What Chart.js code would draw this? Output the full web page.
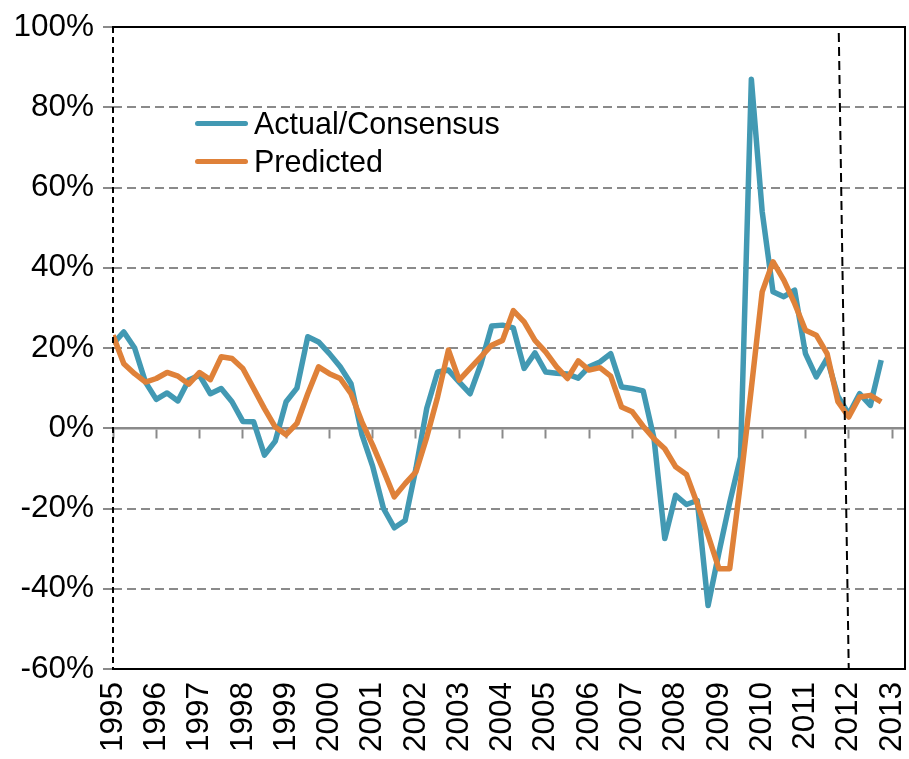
<!DOCTYPE html>
<html>
<head>
<meta charset="utf-8">
<script src="https://cdn.jsdelivr.net/npm/chart.js@4.4.1/dist/chart.umd.min.js"></script>
<style>
  html, body { margin: 0; padding: 0; background: #fff; }
  #wrap { position: relative; width: 909px; height: 759px; }
  #legend { position: absolute; left: 195px; top: 105px; font-family: 'Liberation Sans', Arial, sans-serif; font-size: 30.5px; color: #000; }
  .item { display: flex; align-items: center; height: 37.5px; }
  .swatch { width: 53px; height: 5px; border-radius: 3px; margin-right: 6px; }
</style>
</head>
<body>
<div id="wrap">
  <canvas id="myChart" width="909" height="759"></canvas>
  <div id="legend"></div>
</div>
<script>
// quarterly series, 1995 Q1 onward
const startYear = 1995;
const seriesNames = ['Actual/Consensus', 'Predicted'];
const actual = [
  21, 24, 20, 11.5, 7.2, 8.8, 6.8, 12, 13.2, 8.6, 9.9, 6.6,
  1.7, 1.6, -6.7, -3.2, 6.6, 10, 22.8, 21.5, 18.6, 15.3, 11.1, -1.5,
  -9.5, -20, -24.8, -23, -10, 5, 14, 14.5, 11.5, 8.6, 16, 25.5,
  25.7, 25, 14.9, 18.8, 14, 13.7, 13.5, 12.5, 15.3, 16.5, 18.6, 10.3,
  9.9, 9.3, -2.5, -27.5, -16.7, -19, -18, -44.2, -31, -18.5, -7.2, 87,
  54, 34, 32.8, 34.4, 18.6, 12.8, 17.4, 8, 3.5, 8.6, 5.7, 17
];
const predicted = [
  23.2, 16.1, 13.6, 11.5, 12.4, 13.9, 13, 11, 13.9, 12.1, 17.8, 17.4,
  14.9, 9.9, 4.9, 0.3, -1.6, 1.2, 8.6, 15.3, 13.6, 12.4, 8.6, 1.6,
  -4.2, -10.5, -17.1, -13.8, -10.9, -2.2, 7.8, 19.5, 12, 14.9, 17.8, 20.7,
  21.9, 29.3, 26.5, 21.9, 19, 15.3, 12.4, 16.8, 14.5, 15.1, 13, 5.3,
  4.1, 0.5, -2.6, -5.1, -9.6, -11.5, -18.8, -26.7, -35, -35, -13.5, 10,
  34, 41.5, 36.9, 31.1, 24.4, 23.2, 18.6, 6.6, 2.8, 7.8, 8.2, 6.6
];
// dashed marker lines (start / forecast boundary)
const startLineX = [1995, 1995];
const startLineY = [100, -60];
const forecastLineX = [2011.77, 2012.0];
const forecastLineY = [98.5, -60];

const yMin = -60, yMax = 100, yStep = 20;
const xMin = 1995, xMax = 2013.3;

const blue = '#4299b3';
const orange = '#df8139';
const gridGray = '#8a8a8a';

const toPoints = (vals) => vals.map((v, i) => ({x: startYear + i / 4, y: v}));
const pairPoints = (xs, ys) => xs.map((x, i) => ({x: x, y: ys[i]}));

Chart.defaults.font.family = "'Liberation Sans', Arial, sans-serif";
Chart.defaults.font.size = 31.5;
Chart.defaults.color = '#000';

const noPad = (scale) => {
  scale.paddingLeft = 0; scale.paddingRight = 0;
  scale.paddingTop = 0; scale.paddingBottom = 0;
};

const ctx = document.getElementById('myChart');

new Chart(ctx, {
  type: 'line',
  data: {
    datasets: [
      {
        label: seriesNames[1],
        data: toPoints(predicted),
        borderColor: orange,
        borderWidth: 5.5,
        pointRadius: 0,
        tension: 0,
        borderJoinStyle: 'round',
        order: 1
      },
      {
        label: seriesNames[0],
        data: toPoints(actual),
        borderColor: blue,
        borderWidth: 5.5,
        pointRadius: 0,
        tension: 0,
        borderJoinStyle: 'round',
        order: 2
      },
      {
        label: 'start',
        data: pairPoints(startLineX, startLineY),
        borderColor: '#000',
        borderWidth: 2,
        borderDash: [6, 4],
        pointRadius: 0,
        clip: false,
        order: 0
      },
      {
        label: 'forecast',
        data: pairPoints(forecastLineX, forecastLineY),
        borderColor: '#000',
        borderWidth: 2,
        borderDash: [9, 5],
        pointRadius: 0,
        clip: false,
        order: 0
      }
    ]
  },
  options: {
    responsive: false,
    animation: false,
    layout: {padding: {left: 0, right: 0, top: 0, bottom: 0}},
    plugins: {
      legend: {display: false},
      tooltip: {enabled: false}
    },
    scales: {
      x: {
        type: 'linear',
        position: 'bottom',
        min: xMin,
        max: xMax,
        ticks: {
          stepSize: 1,
          includeBounds: false,
          autoSkip: false,
          minRotation: 90,
          maxRotation: 90,
          padding: 13,
          callback: (v) => Number.isInteger(v) ? String(v) : ''
        },
        grid: {drawOnChartArea: false, drawTicks: false},
        border: {color: '#000', width: 2},
        afterFit: (s) => { s.height = 90; noPad(s); }
      },
      xZero: {
        type: 'linear',
        position: {y: 0},
        min: xMin,
        max: xMax,
        ticks: {display: false, stepSize: 1, includeBounds: false},
        grid: {drawOnChartArea: false, drawTicks: true, tickLength: 9, color: gridGray, tickColor: gridGray, tickWidth: 2},
        border: {color: gridGray, width: 2.5}
      },
      xTop: {
        type: 'linear',
        position: 'top',
        min: xMin,
        max: xMax,
        ticks: {display: false},
        grid: {drawOnChartArea: false, drawTicks: false},
        border: {color: '#000', width: 2},
        afterFit: (s) => { s.height = 27; noPad(s); }
      },
      y: {
        min: yMin,
        max: yMax,
        ticks: {
          stepSize: yStep,
          padding: 9,
          callback: (v) => v + '%'
        },
        grid: {
          color: (c) => c.tick && c.tick.value === 0 ? 'rgba(0,0,0,0)' : gridGray,
          lineWidth: 2,
          tickLength: 10,
          tickColor: gridGray,
          tickWidth: 2
        },
        border: {display: false, dash: [9, 5]},
        afterFit: (s) => { s.width = 113; noPad(s); }
      },
      yRight: {
        position: 'right',
        min: yMin,
        max: yMax,
        ticks: {display: false},
        grid: {drawOnChartArea: false, drawTicks: false},
        border: {color: '#000', width: 2},
        afterFit: (s) => { s.width = 4; noPad(s); }
      }
    }
  }
});

// legend drawn as html next to the plot
const legendEl = document.getElementById('legend');
[[seriesNames[0], blue], [seriesNames[1], orange]].forEach(([name, col]) => {
  const row = document.createElement('div');
  row.className = 'item';
  const sw = document.createElement('span');
  sw.className = 'swatch';
  sw.style.background = col;
  const txt = document.createElement('span');
  txt.textContent = name;
  row.appendChild(sw);
  row.appendChild(txt);
  legendEl.appendChild(row);
});
</script>
</body>
</html>
